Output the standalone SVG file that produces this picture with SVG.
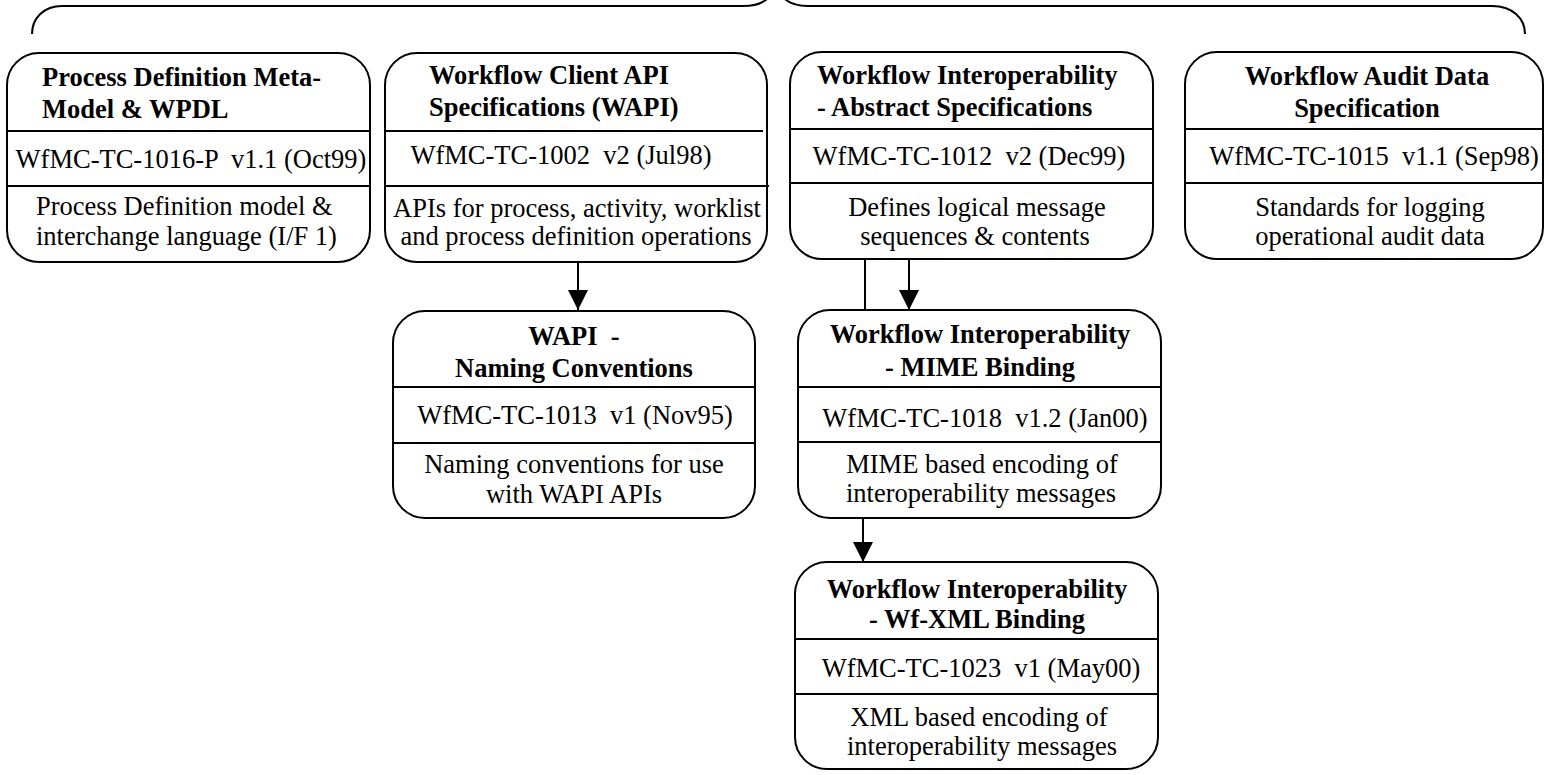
<svg xmlns="http://www.w3.org/2000/svg" width="1549" height="775" viewBox="0 0 1549 775">
<style>
.box{fill:#fff;stroke:#000;stroke-width:2}
.div{stroke:#000;stroke-width:2}
.line{fill:none;stroke:#000;stroke-width:2}
text{font-family:"Liberation Serif","Times New Roman",serif;font-size:26.5px;fill:#000;white-space:pre}
.t{font-weight:bold}
.c{text-anchor:middle}
</style>
<defs>
<marker id="ah" markerWidth="20" markerHeight="20" refX="20" refY="10" orient="auto" markerUnits="userSpaceOnUse">
<path d="M0,0 L20,10 L0,20 Z" fill="#000"/>
</marker>
</defs>
<rect width="1549" height="775" fill="#fff"/>
<g id="brace">
<path class="line" d="M32 34 C32 18 44 6 62 6 L743 6 Q762 6 770 -4"/>
<path class="line" d="M782 -4 Q790 6 808 6 L1492 6 C1512 6 1525 18 1525 34"/>
</g>
<g id="connectors">
<line class="line" x1="578" y1="262" x2="578" y2="310" marker-end="url(#ah)"/>
<line class="line" x1="865" y1="259" x2="865" y2="310"/>
<line class="line" x1="909" y1="259" x2="909" y2="310" marker-end="url(#ah)"/>
<line class="line" x1="863" y1="518" x2="863" y2="562" marker-end="url(#ah)"/>
</g>
<g id="n1">
<rect class="box" x="7" y="53" width="363" height="209" rx="32"/>
<line class="div" x1="7" y1="131" x2="370" y2="131"/>
<line class="div" x1="7" y1="186" x2="370" y2="186"/>
<text class="t" x="42" y="86">Process Definition Meta-</text>
<text class="t" x="42" y="118">Model &amp; WPDL</text>
<text class="c" x="191" y="168" xml:space="preserve">WfMC-TC-1016-P  v1.1 (Oct99)</text>
<text x="36" y="215">Process Definition model &amp;</text>
<text x="36" y="245">interchange language (I/F 1)</text>
</g>
<g id="n2">
<rect class="box" x="385" y="53" width="382" height="209" rx="32"/>
<line class="div" x1="385" y1="131" x2="763" y2="131"/>
<line class="div" x1="385" y1="186" x2="769" y2="186"/>
<text class="t" x="429" y="84">Workflow Client API</text>
<text class="t" x="429" y="116">Specifications (WAPI)</text>
<text class="c" x="561" y="164" xml:space="preserve">WfMC-TC-1002  v2 (Jul98)</text>
<text class="c" x="577" y="217">APIs for process, activity, worklist</text>
<text class="c" x="576" y="245">and process definition operations</text>
</g>
<g id="n3">
<rect class="box" x="790" y="52" width="363" height="207" rx="32"/>
<line class="div" x1="790" y1="129" x2="1153" y2="129"/>
<line class="div" x1="790" y1="183" x2="1153" y2="183"/>
<text class="t" x="817" y="84">Workflow Interoperability</text>
<text class="t" x="817" y="116">- Abstract Specifications</text>
<text class="c" x="969" y="165" xml:space="preserve">WfMC-TC-1012  v2 (Dec99)</text>
<text class="c" x="977" y="216">Defines logical message</text>
<text class="c" x="975" y="245">sequences &amp; contents</text>
</g>
<g id="n6">
<rect class="box" x="1185" y="52" width="358" height="207" rx="32"/>
<line class="div" x1="1185" y1="129" x2="1543" y2="129"/>
<line class="div" x1="1185" y1="183" x2="1543" y2="183"/>
<text class="t c" x="1367" y="85">Workflow Audit Data</text>
<text class="t c" x="1367" y="117">Specification</text>
<text class="c" x="1374" y="165" xml:space="preserve">WfMC-TC-1015  v1.1 (Sep98)</text>
<text class="c" x="1370" y="216">Standards for logging</text>
<text class="c" x="1370" y="245">operational audit data</text>
</g>
<g id="n4">
<rect class="box" x="393" y="311" width="362" height="207" rx="32"/>
<line class="div" x1="393" y1="387" x2="755" y2="387"/>
<line class="div" x1="393" y1="443" x2="755" y2="443"/>
<text class="t c" x="574" y="345" xml:space="preserve">WAPI  -</text>
<text class="t c" x="574" y="377">Naming Conventions</text>
<text class="c" x="575" y="424" xml:space="preserve">WfMC-TC-1013  v1 (Nov95)</text>
<text class="c" x="574" y="473">Naming conventions for use</text>
<text class="c" x="574" y="503">with WAPI APIs</text>
</g>
<g id="n5">
<rect class="box" x="798" y="310" width="363" height="208" rx="32"/>
<line class="div" x1="798" y1="387" x2="1161" y2="387"/>
<line class="div" x1="798" y1="442" x2="1161" y2="442"/>
<text class="t c" x="980" y="343">Workflow Interoperability</text>
<text class="t c" x="980" y="376">- MIME Binding</text>
<text class="c" x="985" y="427" xml:space="preserve">WfMC-TC-1018  v1.2 (Jan00)</text>
<text class="c" x="982" y="473">MIME based encoding of</text>
<text class="c" x="981" y="502">interoperability messages</text>
</g>
<g id="n7">
<rect class="box" x="795" y="562" width="363" height="207" rx="32"/>
<line class="div" x1="795" y1="639" x2="1158" y2="639"/>
<line class="div" x1="795" y1="694" x2="1158" y2="694"/>
<text class="t c" x="977" y="598">Workflow Interoperability</text>
<text class="t c" x="977" y="628">- Wf-XML Binding</text>
<text class="c" x="981" y="677" xml:space="preserve">WfMC-TC-1023  v1 (May00)</text>
<text class="c" x="979" y="726">XML based encoding of</text>
<text class="c" x="982" y="755">interoperability messages</text>
</g>
</svg>
